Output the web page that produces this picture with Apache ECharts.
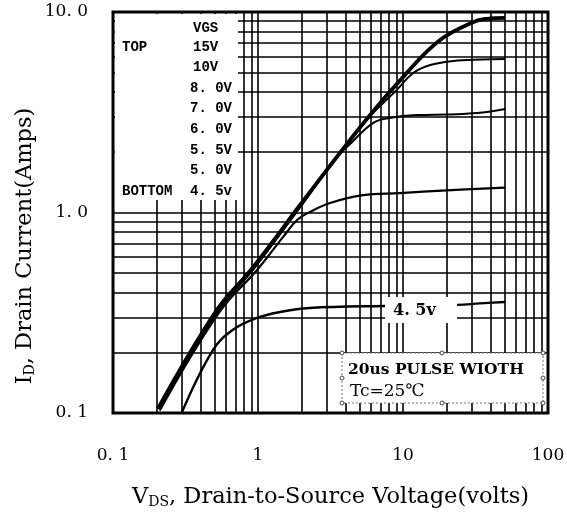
<!DOCTYPE html>
<html>
<head>
<meta charset="utf-8">
<script src="https://cdn.jsdelivr.net/npm/echarts@6/dist/echarts.min.js"></script>
<style>
  html, body { margin: 0; padding: 0; background: #fff; }
  #chart { width: 567px; height: 512px; }
</style>
</head>
<body>
<div id="chart"></div>
<script>
// tick labels
const xTickLabels = ['0. 1', '1', '10', '100'];
const yTickLabels = ['0. 1', '1. 0', '10. 0'];

// VGS legend text (top -> bottom)
const vgsLabels = ['15V', '10V', '8. 0V', '7. 0V', '6. 0V', '5. 5V', '5. 0V', '4. 5v'];

// curves: [VDS (V), ID (A)]
const curveTop = [[0.204, 0.105], [0.521, 0.327], [0.881, 0.511], [1.29, 0.729], [1.95, 1.09],
  [5.5, 2.87], [10.7, 5.0], [18, 7.25], [30.4, 8.9], [38, 9.25], [50.5, 9.35]];
const curve7v = [[0.21, 0.104], [0.53, 0.325], [0.9, 0.51], [1.3, 0.72], [1.95, 1.07],
  [5.5, 2.84], [9.1, 4.1], [11.7, 4.95], [15.4, 5.44], [22.1, 5.7], [35, 5.8], [50.5, 5.83]];
const curve6v = [[0.21, 0.104], [0.53, 0.322], [0.9, 0.505], [1.3, 0.715], [1.95, 1.06],
  [3.6, 1.95], [4.1, 2.12], [6.2, 2.79], [8.1, 2.96], [12.5, 3.06], [20, 3.08], [25.9, 3.1],
  [37.9, 3.17], [50.5, 3.28]];
const curve55v = [[0.21, 0.103], [0.54, 0.318], [0.985, 0.517], [1.5, 0.76], [1.86, 0.917],
  [2.28, 1.006], [3.14, 1.115], [5.3, 1.22], [9.5, 1.25], [20, 1.29], [50.5, 1.33]];
const curve45v = [[0.299, 0.101], [0.489, 0.206], [0.672, 0.26], [0.985, 0.298], [1.42, 0.319],
  [2.28, 0.334], [7.5, 0.342], [23.6, 0.346], [33.9, 0.352], [50.5, 0.358]];

// log grid values
const xGridValues = [];
const yGridValues = [];
[0.1, 1, 10].forEach(d => { for (let k = 1; k <= 9; k++) if (!(d === 0.1 && k === 1)) xGridValues.push(+(k * d).toPrecision(3)); });
[0.1, 1].forEach(d => { for (let k = 1; k <= 9; k++) if (!(d === 0.1 && k === 1)) yGridValues.push(+(k * d).toPrecision(3)); });

const FONT = '"DejaVu Serif", "Liberation Serif", serif';
const MONO = '"Liberation Mono", "DejaVu Sans Mono", monospace';

const myChart = echarts.init(document.getElementById('chart'));

const curveSeries = (name, data, width) => ({
  name: name,
  type: 'line',
  data: data,
  smooth: 0.4,
  showSymbol: false,
  symbol: 'none',
  z: 3,
  lineStyle: { color: '#000', width: width },
  silent: true
});

const txt = (x, y, text, font) => ({
  type: 'text', z: 101, x: x, y: y,
  style: { text: text, font: font, fill: '#000', textVerticalAlign: 'middle', verticalAlign: 'middle' }
});

const graphics = [
  // white patch behind the VGS legend
  { type: 'rect', z: 100, shape: { x: 115, y: 14, width: 123, height: 186 }, style: { fill: '#fff' } },
  txt(193, 28, 'VGS', 'bold 14px ' + MONO),
  txt(122, 47, 'TOP', 'bold 14px ' + MONO),
  txt(122, 191, 'BOTTOM', 'bold 14px ' + MONO),
  // 4.5v label on the curve
  { type: 'rect', z: 100, shape: { x: 385, y: 297, width: 72, height: 26 }, style: { fill: '#fff' } },
  txt(393, 311, '4. 5v', 'bold 16px ' + FONT),
  // pulse width note
  { type: 'rect', z: 100, shape: { x: 342, y: 353, width: 201, height: 50 }, style: { fill: '#fff', stroke: '#777', lineWidth: 1, lineDash: [2, 2] } },
  txt(348, 370, '20us PULSE WIOTH', 'bold 15.5px ' + FONT),
  txt(350, 392, 'Tc=25℃', '17px ' + FONT),
  // y axis title
  {
    type: 'text', z: 101, x: 25, y: 246, rotation: Math.PI / 2,
    style: {
      text: '{a|I}{s|D}{a|, Drain Current(Amps)}',
      fill: '#000', textAlign: 'center', align: 'center', textVerticalAlign: 'middle', verticalAlign: 'middle',
      rich: {
        a: { fontFamily: FONT, fontSize: 22.5, fill: '#000', color: '#000' },
        s: { fontFamily: FONT, fontSize: 14, fill: '#000', color: '#000', padding: [10, 0, 0, 0] }
      }
    }
  }
];

vgsLabels.forEach((t, i) => {
  graphics.push(txt(i < 2 ? 193 : 190, 47 + i * 20.6, t, 'bold 14px ' + MONO));
});

// little selection handles of the note box
[[342, 353], [442, 353], [543, 353], [342, 378], [543, 378], [342, 403], [442, 403], [543, 403]].forEach(p => {
  graphics.push({ type: 'circle', z: 102, shape: { cx: p[0], cy: p[1], r: 2 }, style: { fill: '#fff', stroke: '#444', lineWidth: 1 } });
});

const option = {
  animation: false,
  backgroundColor: '#fff',
  grid: {
    left: 113, right: 19, top: 12, bottom: 99,
    outerBoundsMode: 'none',
    containLabel: false,
    show: true, borderColor: '#000', borderWidth: 3, backgroundColor: '#fff', z: 0
  },
  xAxis: {
    type: 'log',
    logBase: 10,
    min: 0.1,
    max: 100,
    name: '{a|V}{s|DS}{a|, Drain-to-Source Voltage(volts)}',
    nameLocation: 'middle',
    nameGap: 72,
    nameTextStyle: {
      rich: {
        a: { fontFamily: FONT, fontSize: 22.5, color: '#000' },
        s: { fontFamily: FONT, fontSize: 14, color: '#000', padding: [10, 0, 0, 0] }
      }
    },
    axisLine: { show: false },
    axisTick: { show: false },
    splitLine: { show: false },
    axisLabel: {
      margin: 34,
      fontFamily: FONT,
      fontSize: 17,
      color: '#000',
      formatter: v => xTickLabels[Math.round(Math.log10(v)) + 1]
    }
  },
  yAxis: {
    type: 'log',
    logBase: 10,
    min: 0.1,
    max: 10,
    axisLine: { show: false },
    axisTick: { show: false },
    splitLine: { show: false },
    axisLabel: {
      margin: 25,
      fontFamily: FONT,
      fontSize: 17,
      color: '#000',
      verticalAlign: 'middle',
      formatter: v => yTickLabels[Math.round(Math.log10(v)) + 1]
    }
  },
  graphic: graphics,
  series: [
    {
      name: 'grid',
      type: 'line',
      data: [],
      z: 1,
      silent: true,
      markLine: {
        silent: true,
        symbol: ['none', 'none'],
        label: { show: false },
        animation: false,
        lineStyle: { type: 'solid', color: '#000', width: 1.6 },
        emphasis: { disabled: true },
        data: xGridValues.map(v => ({ xAxis: v })).concat(yGridValues.map(v => ({ yAxis: v })))
      }
    },
    curveSeries('4.5V', curve45v, 2.4),
    curveSeries('5.5V', curve55v, 2.2),
    curveSeries('6.0V', curve6v, 2),
    curveSeries('7.0V', curve7v, 2),
    curveSeries('15V', curveTop, 3.8)
  ]
};

myChart.setOption(option);
</script>
</body>
</html>
